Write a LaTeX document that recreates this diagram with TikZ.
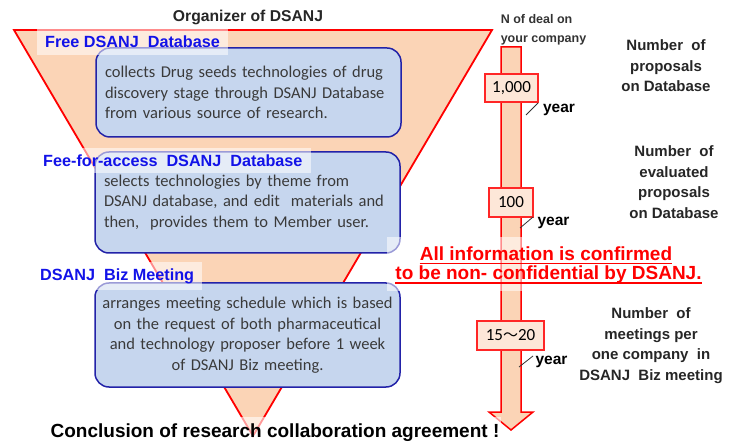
\documentclass[tikz,border=0pt]{standalone}
\usepackage{fontspec}
\setmainfont{Liberation Sans}
\newfontfamily\calfont{Carlito}
\newfontfamily\cjkfont{Noto Sans CJK JP}
\definecolor{funnel}{HTML}{FBD4B6}
\definecolor{boxblue}{HTML}{C6D6EE}
\definecolor{boxedge}{HTML}{2222A8}
\definecolor{numfill}{HTML}{FDE7D8}
\definecolor{lblue}{HTML}{1212E8}
\definecolor{dtext}{HTML}{3A3A3A}
\tikzset{
  descbox/.style={draw=boxedge, line width=1.5pt, fill=boxblue, rounded corners=14pt,
    minimum width=305pt, inner sep=0pt, text=dtext, font=\calfont\fontsize{16.5}{20.5}\selectfont},
  lbl/.style={font=\bfseries\fontsize{16.2}{18}\selectfont, text=lblue, fill=white,
    fill opacity=0.55, text opacity=1, inner xsep=8pt, inner ysep=0pt, anchor=west},
  numbox/.style={draw=red!85!white, line width=1.2pt, fill=numfill, inner sep=0pt,
    font=\calfont\fontsize{17}{18}\selectfont},
  side/.style={font=\bfseries\fontsize{15}{20.5}\selectfont, align=center, text=black!85},
  yr/.style={font=\bfseries\fontsize{15.5}{18}\selectfont, inner sep=0pt},
  slash/.style={black!80, line width=0.8pt},
  redtxt/.style={font=\bfseries\fontsize{19}{20}\selectfont, text=red, inner sep=0pt},
}
\begin{document}
\begin{tikzpicture}[x=1pt,y=-1pt]
\useasboundingbox (0,0) rectangle (730,443);
% funnel
\draw[red, line width=1.8pt, fill=funnel] (14,30) -- (492,30) -- (253,436) -- cycle;
% boxes
\node[descbox, minimum height=89pt, align=left, text width=287pt] (b1) at (248.5,92.5)
 {collects Drug seeds technologies of drug\\discovery stage through DSANJ Database\\from various source of research.};
\node[descbox, minimum height=101pt, align=left, text width=287pt] (b2) at (247.5,202.5)
 {selects technologies by theme from\\DSANJ database, and edit\ \ materials and\\then,\ \ provides them to Member user.};
\node[descbox, minimum height=104pt, align=center, text width=300pt] (b3) at (247.5,335)
 {arranges meeting schedule which is based\\on the request of both pharmaceutical\\and technology proposer before 1 week\\of DSANJ Biz meeting.};
% vertical arrow
\draw[red, line width=1.5pt, fill=funnel, line join=miter]
  (501,47) -- (521,47) -- (521,412) -- (533,412) -- (511,430) -- (489,412) -- (501,412) -- cycle;
% number boxes
\node[numbox, minimum width=53pt, minimum height=28pt] (n1) at (511.5,88) {1,000};
\node[numbox, minimum width=44pt, minimum height=29pt] (n2) at (511,202.5) {100};
\node[numbox, minimum width=67pt, minimum height=29pt] (n3) at (510.5,335.5) {15{\cjkfont\fontsize{15}{18}\selectfont ～}20};
% per year
\coordinate (s1a) at (526,115); \coordinate (s1b) at (538,103);
\draw[slash] (s1a) -- (s1b);
\node[yr] (y1) at (559,110) {year};
\coordinate (s2a) at (520,228); \coordinate (s2b) at (533,217);
\draw[slash] (s2a) -- (s2b);
\node[yr] (y2) at (553.5,223) {year};
\coordinate (s3a) at (519,367); \coordinate (s3b) at (533,356);
\draw[slash] (s3a) -- (s3b);
\node[yr] (y3) at (551.5,362) {year};
% labels with translucent backgrounds
\node[lbl, minimum height=27pt] (l1) at (37,41.5) {Free DSANJ\ \ Database};
\node[lbl, minimum height=25pt] (l2) at (35,160.5) {Fee-for-access\ \ DSANJ\ \ Database};
\node[lbl, minimum height=28pt] (l3) at (32,276) {DSANJ\ \ Biz Meeting};
% red statement
\node[fill=white, fill opacity=0.55, minimum width=333pt, minimum height=54pt, inner sep=0pt] (rbg) at (553.5,264) {};
\node[redtxt] (r1) at (546,254) {All information is confirmed};
\node[redtxt] (r2) at (548.5,275) {to be non- confidential by DSANJ.};
\draw[red, line width=1.3pt] ([yshift=-3pt]r1.base west) -- ([yshift=-3pt]r1.base east);
\draw[red, line width=1.3pt] ([yshift=-3pt]r2.base west) -- ([yshift=-3pt]r2.base east);
% titles
\node[font=\bfseries\fontsize{15.7}{18}\selectfont, text=black!85] (org) at (248,17) {Organizer of DSANJ};
\node[font=\bfseries\fontsize{12.5}{18.5}\selectfont, text=black!80, align=left, inner sep=0pt] (nd) at (543.5,30) {N of deal on\\your company};
\node[side] (t1) at (666,66) {Number\ \ of\\proposals\\on Database};
\node[side] (t2) at (674,182) {Number\ \ of\\evaluated\\proposals\\on Database};
\node[side] (t3) at (651,345.5) {Number\ \ of\\meetings per\\one company\ \ in\\DSANJ\ \ Biz meeting};
\node[font=\bfseries\fontsize{19}{20}\selectfont, fill=white, fill opacity=0.6, text opacity=1,
  inner xsep=2pt, minimum height=32pt] (concl) at (275,433) {Conclusion of research collaboration agreement !};
\end{tikzpicture}
\end{document}
